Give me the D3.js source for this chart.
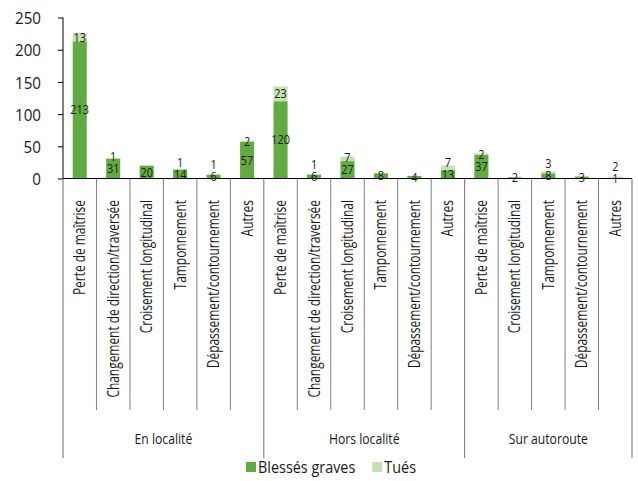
<!DOCTYPE html>
<html>
<head>
<meta charset="utf-8">
<script src="https://cdn.jsdelivr.net/npm/d3@7"></script>
<style>
  html, body { margin: 0; padding: 0; background: #fff; }
  svg { display: block; }
  text { font-family: "Open Sans", "Noto Sans", sans-serif; fill: #1a1a1a; }
</style>
</head>
<body>
<svg id="chart" width="638" height="481"></svg>
<script>
// Accident types, grouped by road network
const groupNames = ["En localité", "Hors localité", "Sur autoroute"];
const catsEnLocalite = ["Perte de maîtrise", "Changement de direction/traversée", "Croisement longitudinal", "Tamponnement", "Dépassement/contournement", "Autres"];
const catsHorsLocalite = ["Perte de maîtrise", "Changement de direction/traversée", "Croisement longitudinal", "Tamponnement", "Dépassement/contournement", "Autres"];
const catsAutoroute = ["Perte de maîtrise", "Croisement longitudinal", "Tamponnement", "Dépassement/contournement", "Autres"];

// Victims per category (same order as above)
const blessesGraves = [213, 31, 20, 14, 6, 57, 120, 6, 27, 8, 4, 13, 37, 2, 8, 3, 1];
const tues = [13, 1, 0, 1, 1, 2, 23, 1, 7, 0, 0, 7, 2, 0, 3, 0, 2];

const yTicks = [0, 50, 100, 150, 200, 250];
const seriesNames = ["Blessés graves", "Tués"];
const seriesColors = ["#62ab42", "#c4e1b3"];

const groupCats = [catsEnLocalite, catsHorsLocalite, catsAutoroute];
const rows = [];
groupCats.forEach((cats, g) => cats.forEach(c => rows.push({ group: g, cat: c })));
rows.forEach((r, i) => { r.id = i; r.b = blessesGraves[i]; r.t = tues[i]; });

const svg = d3.select("#chart");
const left = 63, right = 632, y0 = 178.5, yTop = 17.5;

const x = d3.scaleBand().domain(rows.map(r => r.id)).range([left, right]).padding(0);
const y = d3.scaleLinear().domain([0, 250]).range([y0, yTop]);
const bw = x.bandwidth();
const barW = bw * 0.42;

// Stacked bars
const stack = d3.stack().keys(["b", "t"])(rows);
stack.forEach((layer, k) => {
  svg.append("g").selectAll("rect").data(layer.filter(d => d[1] > d[0])).join("rect")
    .attr("x", d => x(d.data.id) + (bw - barW) / 2)
    .attr("width", barW)
    .attr("y", d => y(d[1]))
    .attr("height", d => y(d[0]) - y(d[1]))
    .attr("fill", seriesColors[k]);
});

// Y axis
const yAxis = d3.axisLeft(y).tickValues(yTicks).tickSize(5).tickPadding(16).tickFormat(d3.format("d"));
const gy = svg.append("g").attr("transform", `translate(${left},0)`).call(yAxis);
gy.select(".domain").attr("stroke", "#000").attr("d", `M0,${yTop}V${y0}`);
gy.selectAll(".tick line").attr("stroke", "#000");
gy.selectAll(".tick text")
  .attr("font-size", 16).attr("font-family", "Open Sans").attr("fill", "#1a1a1a")
  .attr("x", null).attr("dy", null)
  .attr("text-anchor", "end").attr("dominant-baseline", "central")
  .attr("transform", "translate(-22,0) scale(0.95,1)");

// Category separators and group dividers
const sep = svg.append("g");
rows.forEach((r, i) => {
  if (i > 0 && rows[i - 1].group === r.group) {
    sep.append("line").attr("x1", x(r.id)).attr("x2", x(r.id)).attr("y1", y0).attr("y2", 410)
      .attr("stroke", "#7f7f7f").attr("stroke-width", 1);
  }
});
const groupBounds = groupNames.map((_, g) => {
  const rs = rows.filter(r => r.group === g);
  return [x(rs[0].id), x(rs[rs.length - 1].id) + bw];
});
const edges = [groupBounds[0][0], ...groupBounds.map(b => b[1])];
edges.forEach(e => sep.append("line").attr("x1", e).attr("x2", e).attr("y1", y0).attr("y2", 458)
  .attr("stroke", "#6f6f6f").attr("stroke-width", 1));

// X axis line
svg.append("line").attr("x1", left).attr("x2", right).attr("y1", y0).attr("y2", y0)
  .attr("stroke", "#000").attr("stroke-width", 1);

// Category labels (rotated)
svg.append("g").selectAll("text").data(rows).join("text")
  .attr("transform", d => `translate(${x(d.id) + bw / 2 + 5.5},200) rotate(-90) scale(0.77,1)`)
  .attr("text-anchor", "end")
  .attr("font-size", 15.5)
  .text(d => d.cat);

// Group labels
svg.append("g").selectAll("text").data(groupBounds).join("text")
  .attr("transform", (d, i) => `translate(${(d[0] + d[1]) / 2},444) scale(0.87,1)`)
  .attr("text-anchor", "middle")
  .attr("font-size", 14)
  .text((d, i) => groupNames[i]);

// Value labels
const labels = svg.append("g");
rows.forEach(r => {
  const cx = x(r.id) + bw / 2;
  let by = null;
  if (r.b > 0) {
    by = y(r.b / 2);
    labels.append("text").attr("transform", `translate(${cx},${by}) scale(0.84,1)`)
      .attr("text-anchor", "middle").attr("dy", "0.35em").attr("font-size", 13).text(r.b);
  }
  if (r.t > 0) {
    let ty = y(r.b + r.t / 2);
    if (by !== null) ty = Math.min(ty, by - 12);
    labels.append("text").attr("transform", `translate(${cx},${ty}) scale(0.84,1)`)
      .attr("text-anchor", "middle").attr("dy", "0.35em").attr("font-size", 13).text(r.t);
  }
});

// Legend
const legend = svg.append("g");
let lx = 246;
seriesNames.forEach((name, k) => {
  legend.append("rect").attr("x", lx).attr("y", 462).attr("width", 10).attr("height", 10).attr("fill", seriesColors[k]);
  const t = legend.append("text").attr("transform", `translate(${lx + 12},467) scale(0.9,1)`)
    .attr("dominant-baseline", "central").attr("font-size", 16).text(name);
  lx += 12 + t.node().getComputedTextLength() * 0.9 + 17;
});
</script>
</body>
</html>
